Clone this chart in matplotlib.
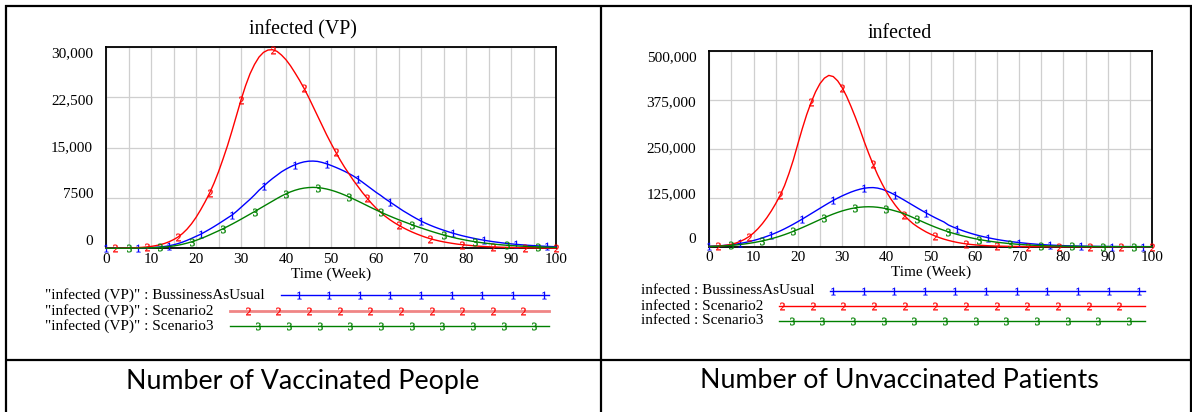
import numpy as np
import matplotlib
matplotlib.use("Agg")
import matplotlib.pyplot as plt
from matplotlib.lines import Line2D
from matplotlib.transforms import blended_transform_factory, ScaledTranslation

plt.rcParams["font.family"] = "Liberation Serif"
plt.rcParams["mathtext.default"] = "regular"

# ---------------------------------------------------------------- data
weeks = np.arange(0, 101)

vp_bau = [10, 12, 15, 20, 25, 32, 40, 50, 65, 85,
          110, 150, 200, 270, 380, 520, 700, 920, 1180, 1470,
          1780, 2080, 2450, 2830, 3230, 3650, 4080, 4520, 4950, 5500,
          6100, 6700, 7300, 7950, 8650, 9250, 9850, 10400, 10900, 11400,
          11800, 12150, 12450, 12700, 12880, 12980, 13000, 12950, 12800, 12600,
          12350, 12080, 11790, 11480, 11140, 10760, 10330, 9850, 9350, 8850,
          8350, 7900, 7400, 6950, 6500, 6050, 5600, 5200, 4800, 4420,
          4060, 3740, 3450, 3180, 2930, 2700, 2480, 2270, 2080, 1900,
          1740, 1590, 1450, 1320, 1200, 1090, 990, 900, 810, 730,
          660, 600, 540, 490, 440, 400, 360, 320, 290, 260, 240]

vp_s2 = [10, 15, 20, 30, 40, 55, 75, 100, 140, 200,
         280, 390, 530, 720, 970, 1290, 1680, 2200, 2850, 3650,
         4600, 5700, 6900, 8200, 9700, 11400, 13300, 15300, 17500, 19800,
         22100, 24200, 26000, 27400, 28500, 29200, 29550, 29600, 29350, 28800,
         28100, 27200, 26150, 25050, 23850, 22550, 21150, 19750, 18350, 16950,
         15650, 14400, 13200, 12100, 11100, 10100, 9200, 8300, 7500, 6700,
         6000, 5400, 4800, 4300, 3850, 3450, 3080, 2740, 2430, 2150,
         1890, 1650, 1440, 1260, 1100, 960, 840, 730, 630, 550,
         480, 420, 360, 310, 270, 235, 205, 180, 158, 138,
         120, 105, 92, 80, 70, 61, 53, 46, 40, 35, 30]

vp_s3 = [5, 6, 8, 10, 13, 17, 22, 30, 40, 55,
         75, 100, 140, 190, 260, 350, 460, 600, 770, 960,
         1180, 1430, 1700, 1990, 2300, 2600, 2920, 3250, 3600, 3960,
         4330, 4710, 5090, 5470, 5860, 6250, 6640, 7030, 7420, 7790,
         8120, 8410, 8650, 8840, 8970, 9050, 9080, 9050, 8970, 8840,
         8670, 8460, 8220, 7950, 7660, 7350, 7030, 6700, 6370, 6040,
         5720, 5410, 5110, 4820, 4540, 4270, 4010, 3760, 3510, 3270,
         3040, 2810, 2590, 2380, 2180, 1990, 1810, 1640, 1480, 1340,
         1210, 1090, 980, 880, 790, 710, 640, 570, 510, 460,
         410, 370, 330, 300, 270, 240, 215, 195, 175, 158, 142]

uv_bau = [1000, 1500, 2100, 2900, 3900, 5100, 6600, 8400, 10500, 13000,
          15800, 19000, 22500, 26400, 30600, 35200, 40200, 45600, 51400, 57500,
          63900, 70500, 77300, 84200, 91100, 98000, 104900, 111600, 118000, 124000,
          129600, 134600, 139300, 143300, 146600, 149200, 150500, 150800, 149500, 146700,
          142500, 137500, 131700, 125500, 119000, 112300, 105600, 98900, 92300, 86000,
          79900, 74000, 68400, 63100, 55500, 50500, 46000, 41800, 37900, 34300,
          31000, 28000, 25300, 22800, 20500, 18400, 16500, 14800, 13200, 11800,
          10500, 9300, 8200, 7200, 6300, 5500, 4800, 4200, 3650, 3150,
          2700, 2300, 2000, 1700, 1450, 1250, 1050, 900, 770, 650,
          560, 480, 410, 350, 300, 255, 220, 190, 160, 140, 120]

uv_s2 = [500, 900, 1500, 2500, 4000, 6200, 9300, 13500, 19000, 26000,
         35000, 46000, 59000, 74000, 91000, 110000, 131000, 156000, 187000, 222000,
         262000, 301000, 337000, 368000, 395000, 416000, 430000, 437000, 434000, 423000,
         406000, 384000, 358000, 330000, 300000, 268000, 238000, 210000, 184000, 161000,
         140000, 122000, 106000, 92000, 80000, 69000, 59000, 51000, 44000, 37500,
         32000, 27300, 23000, 19300, 16100, 13300, 10900, 8900, 7200, 5800,
         4700, 3800, 3100, 2500, 2000, 1600, 1300, 1050, 850, 700,
         560, 450, 370, 300, 240, 200, 160, 130, 105, 85,
         70, 57, 46, 37, 30, 25, 20, 16, 13, 11,
         9, 7, 6, 5, 4, 3, 3, 2, 2, 2, 1]

uv_s3 = [700, 1000, 1400, 1900, 2600, 3400, 4400, 5600, 7000, 8600,
         10400, 12500, 14800, 17400, 20300, 23500, 27000, 30800, 34900, 39300,
         43900, 48700, 53700, 58800, 64000, 69100, 74100, 78900, 83400, 87500,
         91200, 94400, 97100, 99200, 100700, 101600, 101900, 101600, 100600, 99000,
         96900, 94300, 91200, 88000, 84000, 79500, 74500, 69500, 64500, 59500,
         54700, 50100, 45800, 41800, 38000, 34500, 31300, 28300, 25500, 22900,
         20500, 18300, 16300, 14500, 12900, 11400, 10100, 8900, 7800, 6800,
         5900, 5100, 4400, 3800, 3300, 2800, 2400, 2100, 1800, 1500,
         1300, 1100, 950, 800, 680, 580, 490, 420, 360, 300,
         260, 220, 190, 160, 135, 115, 100, 85, 72, 61, 52]

x_ticks = [0, 10, 20, 30, 40, 50, 60, 70, 80, 90, 100]
vp_yticks = [0, 7500, 15000, 22500, 30000]
vp_ylabels = ["0", "7500", "15,000", "22,500", "30,000"]
uv_yticks = [0, 125000, 250000, 375000, 500000]
uv_ylabels = ["0", "125,000", "250,000", "375,000", "500,000"]

vp_names = ['"infected (VP)" : BussinessAsUsual',
            '"infected (VP)" : Scenario2',
            '"infected (VP)" : Scenario3']
uv_names = ["infected : BussinessAsUsual",
            "infected : Scenario2",
            "infected : Scenario3"]
captions = ["Number of Vaccinated People", "Number of Unvaccinated Patients"]

# ---------------------------------------------------------------- figure
W, H, DPI = 1192, 412, 100
fig = plt.figure(figsize=(W / DPI, H / DPI), dpi=DPI)


def fx(x):
    return x / W


def fy(y):
    return 1 - y / H


def hline(x0, x1, y, **kw):
    fig.add_artist(Line2D([fx(x0), fx(x1)], [fy(y), fy(y)],
                          transform=fig.transFigure, **kw))


def vline(x, y0, y1, **kw):
    fig.add_artist(Line2D([fx(x), fx(x)], [fy(y0), fy(y1)],
                          transform=fig.transFigure, **kw))


COLORS = ["#0000ff", "#ff0000", "#008000"]
MARKS = ["$1$", "$2$", "$3$"]
STARTS = [0, 2, 5]
MS = 5.4
MEW = 0.25


def panel(box, title, title_xy, ymax, yticks, ylabels, series, names,
          legend_x, legend_rows, keys):
    x0, y0, x1, y1 = box
    ax = fig.add_axes([fx(x0), fy(y1), fx(x1 - x0), (y1 - y0) / H])
    ax.set_xlim(0, 100)
    ax.set_ylim(0, ymax)
    ax.set_xticks(np.arange(0, 101, 5))
    ax.set_yticks(yticks)
    ax.grid(True, color="#cfcfcf", lw=0.9)
    ax.set_axisbelow(True)
    ax.tick_params(length=0, labelbottom=False, labelleft=False)
    for s in ax.spines.values():
        s.set_linewidth(1.3)
        s.set_color("black")

    for vals, c, m, st in zip(series, COLORS, MARKS, STARTS):
        ax.plot(weeks, vals, color=c, lw=1.0, marker=m, ms=MS, mew=MEW,
                markevery=(st, 7), clip_on=False, zorder=3)

    # y labels are spread over a slightly narrower band than the grid
    ylab_tr = blended_transform_factory(ax.transAxes, ax.transAxes) + \
        ScaledTranslation(-0.13, 0, fig.dpi_scale_trans)
    for v, lab in zip(yticks, ylabels):
        ax.text(0, 0.035 + 0.93 * v / ymax, lab, transform=ylab_tr,
                ha="right", va="center", fontsize=11)

    xlab_tr = blended_transform_factory(ax.transData, ax.transAxes) + \
        ScaledTranslation(0, -0.11, fig.dpi_scale_trans)
    for v in x_ticks:
        ax.text(v, 0, str(v), transform=xlab_tr, ha="center", va="center",
                fontsize=11)

    fig.text(fx((x0 + x1) / 2), fy(y1 + 26), "Time (Week)", ha="center",
             va="center", fontsize=11)
    fig.text(fx(title_xy[0]), fy(title_xy[1]), title, ha="center",
             va="center", fontsize=14.3)

    # legend rows: label, line, numbered markers
    for name, c, m, ry, key in zip(names, COLORS, MARKS, legend_rows, keys):
        fig.text(fx(legend_x), fy(ry), name, ha="left", va="center",
                 fontsize=11)
        lx0, lx1, first, n, lcolor, lw = key
        hline(lx0, lx1, ry, color=lcolor, lw=lw)
        mx = first + 30.65 * np.arange(n)
        fig.add_artist(Line2D(fx(mx), np.full(n, fy(ry)), linestyle="none",
                              marker=m, ms=MS, mew=MEW, color=c,
                              transform=fig.transFigure))


panel((106, 47, 556, 248.3), "infected (VP)", (303, 29.5), 30000,
      vp_yticks, vp_ylabels, [vp_bau, vp_s2, vp_s3], vp_names,
      45, [295, 311, 326],
      [(281, 549, 298.5, 9, COLORS[0], 1.0),
       (229.6, 549, 247.6, 10, "#f08585", 2.0),
       (229.6, 549, 258.3, 10, COLORS[2], 1.0)])

panel((709.3, 50.7, 1152, 246.7), "infected", (900, 33), 500000,
      uv_yticks, uv_ylabels, [uv_bau, uv_s2, uv_s3], uv_names,
      641, [291, 306, 321],
      [(830, 1145, 832.9, 11, COLORS[0], 1.0),
       (779, 1145, 782, 12, COLORS[1], 1.0),
       (779, 1145, 791.8, 12, COLORS[2], 1.0)])

# table rules
rule = dict(color="black", lw=1.6, solid_capstyle="butt")
hline(5, 1192, 6, **rule)
hline(5, 1192, 360, **rule)
vline(6, 5, 412, **rule)
vline(601, 5, 412, **rule)
vline(1190.5, 5, 412, **rule)

fig.text(fx(303), fy(381), captions[0], ha="center", va="center",
         fontsize=19.3, family="Lato")
fig.text(fx(899), fy(381), captions[1], ha="center", va="center",
         fontsize=19.3, family="Lato")

fig.savefig("out.png", dpi=DPI)
